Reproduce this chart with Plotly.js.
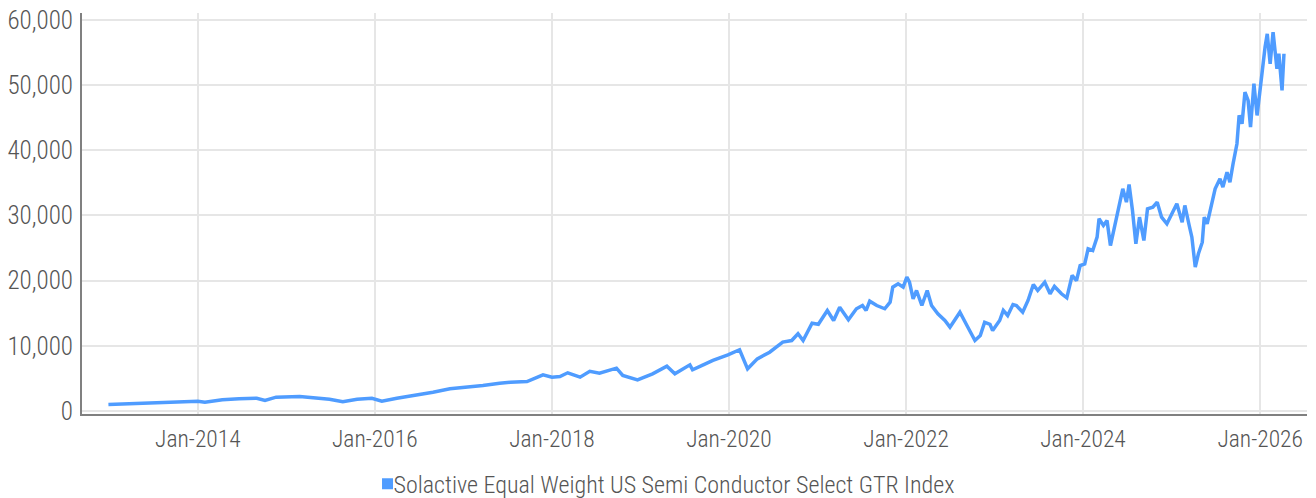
<!DOCTYPE html>
<html>
<head>
<meta charset="utf-8">
<script src="https://cdn.plot.ly/plotly-3.0.1.min.js"></script>
<style>
  html, body { margin: 0; padding: 0; background: #ffffff; }
  #chart { width: 1316px; height: 498px; }
</style>
</head>
<body>
<div id="chart"></div>
<script>
// Index level
const dates = [
  '2012-12-28','2013-05-05','2013-09-05','2014-01-01','2014-01-30','2014-04-12','2014-06-20','2014-09-01',
  '2014-10-05','2014-11-20','2015-02-25','2015-05-20','2015-06-28','2015-08-22','2015-10-20','2015-12-20',
  '2016-01-30','2016-04-01','2016-05-26','2016-07-05','2016-08-28','2016-11-06','2017-01-15','2017-03-22',
  '2017-05-30','2017-07-13','2017-09-20','2017-10-16','2017-11-25','2018-01-01','2018-02-03','2018-03-07',
  '2018-04-27','2018-06-06','2018-07-16','2018-09-24','2018-10-20','2018-12-20','2019-02-20','2019-04-20',
  '2019-05-23','2019-07-24','2019-08-04','2019-09-17','2019-10-27','2019-12-28','2020-02-14','2020-03-18',
  '2020-04-27','2020-06-17','2020-08-10','2020-09-16','2020-10-12','2020-11-02','2020-12-09','2021-01-04',
  '2021-02-10','2021-03-08','2021-04-02','2021-05-08','2021-06-10','2021-07-05','2021-07-20','2021-08-04',
  '2021-09-02','2021-10-05','2021-10-27','2021-11-07','2021-11-29','2021-12-20','2022-01-04','2022-01-15',
  '2022-01-30','2022-02-13','2022-03-07','2022-03-29','2022-04-16','2022-05-12','2022-06-10','2022-07-01',
  '2022-08-11','2022-09-09','2022-10-12','2022-11-03','2022-11-21','2022-12-13','2022-12-24','2023-01-22',
  '2023-02-06','2023-02-24','2023-03-18','2023-04-01','2023-04-27','2023-05-19','2023-06-10','2023-06-28',
  '2023-07-27','2023-08-18','2023-09-05','2023-10-04','2023-10-26','2023-11-17','2023-12-05','2023-12-20',
  '2024-01-08','2024-01-22','2024-02-10','2024-02-28','2024-03-07','2024-03-25','2024-04-09','2024-04-23',
  '2024-05-11','2024-05-26','2024-06-13','2024-06-28','2024-07-09','2024-07-23','2024-08-06','2024-08-21',
  '2024-09-08','2024-09-23','2024-10-15','2024-11-02','2024-11-20','2024-12-12','2025-01-04','2025-01-22',
  '2025-02-13','2025-02-24','2025-03-14','2025-03-25','2025-04-08','2025-04-21','2025-05-07','2025-05-15',
  '2025-05-27','2025-06-17','2025-06-29','2025-07-19','2025-07-31','2025-08-17','2025-08-29','2025-09-11',
  '2025-09-27','2025-10-06','2025-10-18','2025-10-30','2025-11-12','2025-11-22','2025-12-06','2025-12-19',
  '2026-01-08','2026-01-21','2026-01-30','2026-02-11','2026-02-23','2026-03-11','2026-03-19','2026-04-01',
  '2026-04-09'
];
const indexValues = [
  1000, 1200, 1350, 1500, 1350, 1720, 1870, 1960,
  1610, 2120, 2220, 2020, 1810, 1410, 1810, 1960,
  1500, 1960, 2270, 2480, 2880, 3400, 3650, 3910,
  4270, 4420, 4520, 4900, 5550, 5190, 5290, 5860,
  5190, 6100, 5800, 6570, 5450, 4780, 5700, 6880,
  5700, 7080, 6320, 7080, 7750, 8600, 9390, 6470,
  8000, 9020, 10560, 10810, 11840, 10810, 13470, 13300,
  15420, 13880, 15920, 13990, 15680, 16180, 15420, 16840,
  16180, 15680, 16690, 18990, 19510, 18990, 20520, 19760,
  17210, 18480, 16180, 18480, 16180, 14910, 13880, 12860,
  15150, 13120, 10810, 11580, 13620, 13300, 12350, 13880,
  15420, 14650, 16330, 16180, 15150, 16950, 19400, 18480,
  19760, 17980, 19100, 17980, 17360, 20780, 20010, 22310,
  22570, 24870, 24620, 26660, 29480, 28450, 29220, 25380,
  28450, 31260, 34080, 32030, 34740, 30750, 25640, 29730,
  26150, 31010, 31260, 32030, 29730, 28710, 30500, 31780,
  28960, 31520, 28450, 26660, 22060, 24110, 25890, 29730,
  28710, 31780, 34080, 35620, 34330, 36630, 35100, 37920,
  40990, 45330, 44050, 48900, 47630, 43540, 50190, 45330,
  52230, 55810, 57850, 53260, 58110, 52490, 54790, 49160,
  54790
];
const seriesName = 'Solactive Equal Weight US Semi Conductor Select GTR Index';
const yTickValues = [0, 10000, 20000, 30000, 40000, 50000, 60000];

const lineColor = '#4f9cff';
const textColor = '#555555';
const fontFamily = '"Roboto Condensed", Roboto, sans-serif';

const traces = [
  {
    x: dates, y: indexValues, type: 'scatter', mode: 'lines',
    line: { color: lineColor, width: 3.5 },
    showlegend: false, hoverinfo: 'x+y'
  },
  {
    x: [null], y: [null], type: 'scatter', mode: 'markers',
    marker: { color: lineColor, symbol: 'square', size: 11 },
    name: seriesName, showlegend: true
  }
];

const layout = {
  width: 1316, height: 498,
  paper_bgcolor: '#ffffff', plot_bgcolor: '#ffffff',
  margin: { l: 82, r: 9, t: 13, b: 84, autoexpand: false },
  font: { family: fontFamily, size: 24, color: textColor, weight: 300 },
  xaxis: {
    type: 'date',
    range: ['2012-09-10', '2026-07-13'],
    tick0: '2014-01-01', dtick: 'M24', tickformat: '%b-%Y',
    showgrid: true, gridcolor: '#e6e6e6', gridwidth: 2,
    showline: true, linecolor: '#808080', linewidth: 2,
    ticks: '', ticklabelstandoff: 3,
    zeroline: false, automargin: false,
    tickfont: { family: fontFamily, size: 23.5, color: textColor, weight: 300 }
  },
  yaxis: {
    range: [-460, 61040],
    tickvals: yTickValues, tickformat: ',d',
    showgrid: true, gridcolor: '#e6e6e6', gridwidth: 2,
    showline: true, linecolor: '#808080', linewidth: 2,
    ticks: '', ticklabelstandoff: 2,
    zeroline: false, automargin: false,
    tickfont: { family: fontFamily, size: 25, color: textColor, weight: 300 }
  },
  legend: {
    orientation: 'h', x: 0.469, xanchor: 'center',
    yref: 'container', y: 0.028, yanchor: 'middle',
    font: { family: fontFamily, size: 24, color: textColor, weight: 300 },
    itemwidth: 30, bgcolor: 'rgba(0,0,0,0)'
  },
  showlegend: true
};

Plotly.newPlot('chart', traces, layout, { displayModeBar: false, staticPlot: true }).then(function (gd) {
  // place the legend square right next to its label, as in the reference
  gd.querySelectorAll('.legend .legendpoints path.scatterpts').forEach(function (p) {
    p.setAttribute('transform', 'translate(34,0)');
  });
});
</script>
</body>
</html>
